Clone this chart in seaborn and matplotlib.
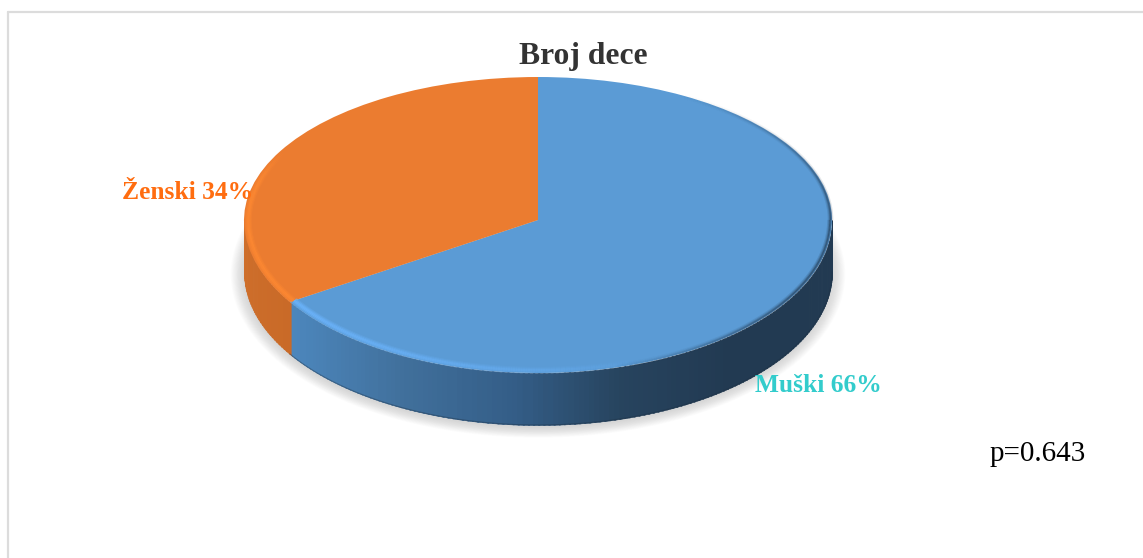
import numpy as np
import matplotlib
matplotlib.use("Agg")
import matplotlib.pyplot as plt
from matplotlib.collections import LineCollection
from matplotlib.lines import Line2D
import seaborn as sns

# Chart content
title_text = "Broj dece"
categories = ["Muški", "Ženski"]
shares = [66, 34]
note_text = "p=0.643"

# Palette
top_colors = ["#5B9BD5", "#EB7C30"]
wall_stops = ["#4C86BC", "#41709C", "#345E88", "#27445F", "#223A52", "#223A52"]
orange_wall = ["#CF6F2B", "#C96A28"]
label_colors = ["#33CCCC", "#FF6D10"]

W, H = 1143, 558
CX, CY = 538, 220          # pie apex in pixels
RX, RY_UP, RY_DOWN = 294, 143, 153
DEPTH = 52 / RY_DOWN

sns.set_theme(style="white")
plt.rcParams["font.family"] = ["Liberation Serif", "DejaVu Serif"]

fig = plt.figure(figsize=(W / 100, H / 100), dpi=100, facecolor="white")
ax = fig.add_axes([0, 0, 1, 1])


# Tilted perspective: the far half of the disc is a little flatter than the near half
def tilt(y):
    y = np.asarray(y, dtype=float)
    return np.where(y >= 0, y * RY_UP, y * RY_DOWN)


def untilt(p):
    p = np.asarray(p, dtype=float)
    return np.where(p >= 0, p / RY_UP, p / RY_DOWN)


# Soft ground shadow, stacked translucent ellipses
theta_all = np.radians(np.linspace(0, 360, 361))
for grow in np.linspace(0.045, 0.0, 16):
    ax.fill(
        np.cos(theta_all) * (1 + grow),
        np.sin(theta_all) * (1 + grow * 1.5) - DEPTH - 0.015,
        color="#909090", alpha=0.022, lw=0, zorder=1,
    )

# Rim split point follows from the shares: slices run clockwise from 12 o'clock
split_deg = 90 - 360 * shares[0] / sum(shares) + 360

# Side wall of the disc
edges = np.linspace(180, 360, 181)
blue_ramp = sns.blend_palette(wall_stops, n_colors=len(edges))
orange_ramp = sns.blend_palette(orange_wall, n_colors=len(edges))
for a0, a1 in zip(edges[:-1], edges[1:]):
    if a0 < split_deg:
        frac = (a0 - 180) / (split_deg - 180)
        col = orange_ramp[int(frac * (len(edges) - 1))]
    else:
        frac = (np.cos(np.radians(a0)) - np.cos(np.radians(split_deg))) / (1 - np.cos(np.radians(split_deg)))
        col = blue_ramp[int(frac * (len(edges) - 1))]
    t = np.radians([a0, min(a1 + 0.3, 360)])
    ax.fill_between(np.cos(t), np.sin(t), np.sin(t) - DEPTH, color=col, lw=0.4, zorder=2)

# Thin dark line under the wall
t = np.radians(np.linspace(split_deg, 360, 120))
ax.plot(np.cos(t), np.sin(t) - DEPTH, color="#1E3042", lw=0.8, alpha=0.4, zorder=2.5)

# Top surface
ax.pie(shares, colors=top_colors, startangle=90, counterclock=False, radius=1, center=(0, 0),
       wedgeprops={"linewidth": 0, "zorder": 3})
ax.set_aspect("auto")


def rim_strip(a_from, a_to, color, alpha_fn, lw, radius, zorder=4):
    a = np.radians(np.linspace(a_from, a_to, 160))
    pts = np.column_stack([np.cos(a) * radius, np.sin(a) * radius])
    segs = np.stack([pts[:-1], pts[1:]], axis=1)
    base = matplotlib.colors.to_rgb(color)
    rgba = [(*base, alpha_fn(i / (len(segs) - 1))) for i in range(len(segs))]
    ax.add_collection(LineCollection(segs, colors=rgba, linewidths=lw, zorder=zorder, capstyle="butt"))


# Bevel highlights on the near edge
for lw, al in [(5.0, 0.28), (3.4, 0.42), (1.8, 0.55)]:
    rim_strip(150, split_deg, "#FF8A33", lambda f: al * min(1, f * 4), lw, 0.985)
    rim_strip(split_deg, 292, "#6DB6FF", lambda f: al * (1 - f) ** 0.8, lw, 0.982)

# Shaded far-right edge of the top surface
for lw, al in [(4.0, 0.16), (2.4, 0.28), (1.0, 0.5)]:
    rim_strip(285, 360, "#223A52", lambda f: al * min(1, f * 1.6), lw, 0.993)
    rim_strip(0, 62, "#223A52", lambda f: al * (1 - f) ** 1.2, lw, 0.995)

# Pixel-aligned view
ax.set_yscale("function", functions=(tilt, untilt))
ax.set_xlim(-CX / RX, (W - CX) / RX)
ax.set_ylim(float(untilt(CY - H)), float(untilt(CY)))
ax.set_axis_off()


def at(x_px, y_px):
    return x_px / W, 1 - y_px / H


# Outer chart border, open on the right and at the bottom
border_kw = dict(color="#DCDCDC", lw=1.6, transform=fig.transFigure)
x0, y0 = at(8, 12)
fig.add_artist(Line2D([x0, x0], [0, y0], **border_kw))
fig.add_artist(Line2D([x0, 1], [y0, y0], **border_kw))

# Text
fig.text(*at(583.5, 56.5), title_text, ha="center", va="center", fontsize=22.7,
         fontweight="bold", color="#333333")
fig.text(*at(122, 192.5), f"{categories[1]} {shares[1]}%", ha="left", va="center",
         fontsize=18.4, fontweight="bold", color=label_colors[1], zorder=10)
fig.text(*at(755, 385.5), f"{categories[0]} {shares[0]}%", ha="left", va="center",
         fontsize=18.4, fontweight="bold", color=label_colors[0], zorder=10)
fig.text(*at(990, 454), note_text, ha="left", va="center", fontsize=21, color="black")

fig.savefig("out.png", dpi=100, facecolor="white")
